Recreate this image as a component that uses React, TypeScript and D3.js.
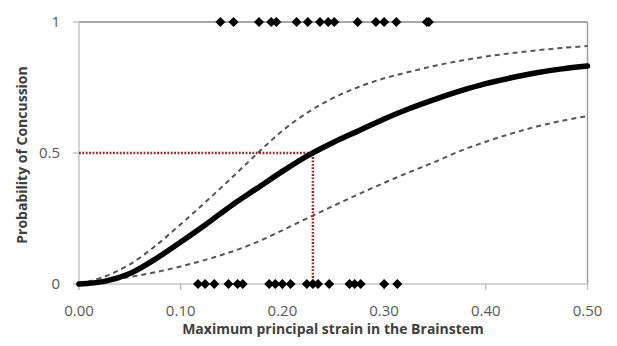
import React from 'react';
import * as d3 from 'd3';

const strainGrid = [0, 0.025, 0.05, 0.075, 0.1, 0.125, 0.15, 0.175, 0.2, 0.225, 0.25,
  0.275, 0.3, 0.325, 0.35, 0.375, 0.4, 0.425, 0.45, 0.475, 0.5];
const fitCurve = [0, 0.01, 0.04, 0.095, 0.16, 0.228, 0.3, 0.365, 0.43, 0.49, 0.54,
  0.585, 0.63, 0.67, 0.705, 0.737, 0.765, 0.787, 0.806, 0.821, 0.832];
const upperBound = [0, 0.028, 0.075, 0.145, 0.228, 0.315, 0.405, 0.497, 0.585, 0.655, 0.71,
  0.752, 0.785, 0.81, 0.833, 0.852, 0.868, 0.881, 0.892, 0.901, 0.908];
const lowerBound = [0, 0.012, 0.027, 0.045, 0.067, 0.093, 0.123, 0.16, 0.205, 0.252, 0.298,
  0.343, 0.386, 0.427, 0.466, 0.508, 0.543, 0.574, 0.601, 0.623, 0.641];

// observed cases
const concussed = [0.139, 0.152, 0.177, 0.189, 0.194, 0.214, 0.225, 0.237, 0.245, 0.251,
  0.274, 0.292, 0.3, 0.312, 0.342, 0.344];
const notConcussed = [0.117, 0.124, 0.133, 0.147, 0.156, 0.161, 0.187, 0.193, 0.2, 0.208,
  0.224, 0.23, 0.235, 0.246, 0.266, 0.271, 0.277, 0.3, 0.313];

const threshold = { strain: 0.23, prob: 0.5 };

const xTicks = [0, 0.1, 0.2, 0.3, 0.4, 0.5];
const yTicks = [0, 0.5, 1];
const yTickLabels = ['0', '0.5', '1'];

const width = 617;
const height = 346;
const margin = { top: 22, right: 29.5, bottom: 62, left: 79 };

const font = '"Open Sans", sans-serif';

const App = () => {
  const x = d3.scaleLinear().domain([0, 0.5]).range([margin.left, width - margin.right]);
  const y = d3.scaleLinear().domain([0, 1]).range([height - margin.bottom, margin.top]);

  const line = d3
    .line<[number, number]>()
    .x((d) => x(d[0]))
    .y((d) => y(d[1]))
    .curve(d3.curveCatmullRom.alpha(0.5));

  const pts = (vals: number[]) => strainGrid.map((s, i) => [s, vals[i]] as [number, number]);

  const diamond = d3.symbol().type(d3.symbolSquare).size(50)() as string;

  const x0 = x(0), x1 = x(0.5), y0 = y(0), y1 = y(1);

  return (
    <svg width={width} height={height}
      style={{ position: 'absolute', left: 0, top: 0, background: '#fff' }}>
      {/* frame */}
      <line x1={x0} x2={x1} y1={y1} y2={y1} stroke="#8a8a8a" strokeWidth={1.5} />
      <line x1={x1} x2={x1} y1={y1} y2={y0} stroke="#a0a0a0" strokeWidth={1.5} />
      <line x1={x0} x2={x0} y1={y1} y2={y0 + 6} stroke="#c4c4c4" strokeWidth={1.5} />
      <line x1={x0 - 6} x2={x1} y1={y0} y2={y0} stroke="#c4c4c4" strokeWidth={1.5} />

      {/* x ticks */}
      {xTicks.map((t) => (
        <g key={t}>
          <line x1={x(t)} x2={x(t)} y1={y0} y2={y0 + 6} stroke="#c4c4c4" strokeWidth={1.5} />
          <text x={x(t)} y={316} textAnchor="middle" fontFamily={font} fontSize={15} fill="#595959">
            {d3.format('.2f')(t)}
          </text>
        </g>
      ))}
      {/* y ticks */}
      {yTicks.map((t, i) => (
        <g key={t}>
          <line x1={x0 - 6} x2={x0} y1={y(t)} y2={y(t)} stroke="#c4c4c4" strokeWidth={1.5} />
          <text x={60} y={y(t) + 5} textAnchor="end" fontFamily={font} fontSize={15} fill="#595959">
            {yTickLabels[i]}
          </text>
        </g>
      ))}

      {/* confidence bounds */}
      <path d={line(pts(upperBound)) as string} fill="none" stroke="#555" strokeWidth={2}
        strokeDasharray="5 4" />
      <path d={line(pts(lowerBound)) as string} fill="none" stroke="#555" strokeWidth={2}
        strokeDasharray="5 4" />

      {/* threshold guides */}
      <path
        d={`M${x(0)},${y(threshold.prob)}H${x(threshold.strain)}V${y(0)}`}
        fill="none" stroke="#952a2a" strokeWidth={2.5} strokeDasharray="1.8 1.6" />

      {/* fitted curve */}
      <path d={line(pts(fitCurve)) as string} fill="none" stroke="#000" strokeWidth={5.5}
        strokeLinecap="round" />

      {/* data points */}
      {concussed.map((s, i) => (
        <path key={'c' + i} d={diamond} fill="#000"
          transform={`translate(${x(s)},${y(1)}) rotate(45)`} />
      ))}
      {notConcussed.map((s, i) => (
        <path key={'n' + i} d={diamond} fill="#000"
          transform={`translate(${x(s)},${y(0)}) rotate(45)`} />
      ))}

      {/* axis titles */}
      <text x={333} y={334} textAnchor="middle" fontFamily={font} fontSize={14}
        fontWeight="bold" fill="#404040">
        Maximum principal strain in the Brainstem
      </text>
      <text transform={`translate(27,155) rotate(-90)`} textAnchor="middle" fontFamily={font}
        fontSize={14} fontWeight="bold" fill="#404040">
        Probability of Concussion
      </text>
    </svg>
  );
};

export default App;
